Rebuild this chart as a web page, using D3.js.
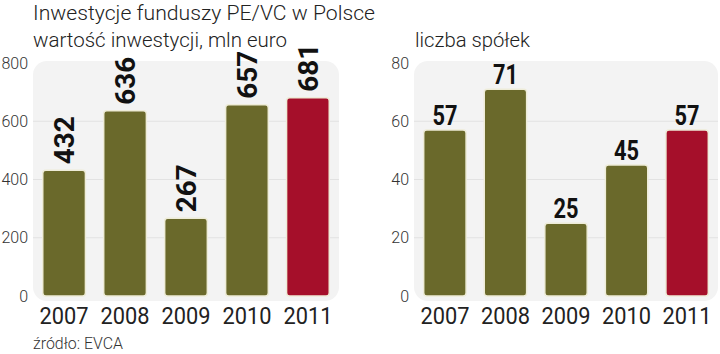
<!DOCTYPE html>
<html>
<head>
<meta charset="utf-8">
<script src="https://cdn.jsdelivr.net/npm/d3@7"></script>
<style>
  body { margin: 0; background: #fff; }
  text { font-family: Roboto, sans-serif; }
</style>
</head>
<body>
<svg width="720" height="354"></svg>
<script>
let years = ['2007', '2008', '2009', '2010', '2011']
let investments = [432, 636, 267, 657, 681]
let companies = [57, 71, 25, 45, 57]
let investTicks = [0, 200, 400, 600, 800]
let companyTicks = [0, 20, 40, 60, 80]

let olive = '#6a692b'
let red = '#a50f2a'

let svg = d3.select('svg')

// titles
svg.append('text')
  .attr('x', 33).attr('y', 20)
  .attr('font-size', 21).attr('font-weight', 300).attr('fill', '#222')
  .attr('textLength', 342).attr('lengthAdjust', 'spacingAndGlyphs')
  .text('Inwestycje funduszy PE/VC w Polsce')

svg.append('text')
  .attr('x', 33).attr('y', 47)
  .attr('font-size', 21).attr('font-weight', 300).attr('fill', '#222')
  .attr('textLength', 254).attr('lengthAdjust', 'spacingAndGlyphs')
  .text('wartość inwestycji, mln euro')

svg.append('text')
  .attr('x', 415).attr('y', 47)
  .attr('font-size', 21).attr('font-weight', 300).attr('fill', '#222')
  .attr('textLength', 115).attr('lengthAdjust', 'spacingAndGlyphs')
  .text('liczba spółek')

svg.append('text')
  .attr('x', 33).attr('y', 349)
  .attr('font-size', 16).attr('font-weight', 300).attr('fill', '#333')
  .attr('textLength', 90).attr('lengthAdjust', 'spacingAndGlyphs')
  .text('źródło: EVCA')

function drawChart(opts) {
  let x = d3.scaleBand()
    .domain(years)
    .range([opts.left, opts.right])
    .paddingInner(0.3)
    .paddingOuter(0.16)

  let y = d3.scaleLinear()
    .domain([0, d3.max(opts.ticks)])
    .range([296, 63])

  let g = svg.append('g')

  g.append('rect')
    .attr('x', opts.left)
    .attr('y', 61)
    .attr('width', opts.right - opts.left)
    .attr('height', 240)
    .attr('rx', 14)
    .attr('fill', '#f3f3f3')

  g.selectAll('.grid')
    .data(opts.ticks.slice(1, -1))
    .join('line')
    .attr('x1', opts.left)
    .attr('x2', opts.right)
    .attr('y1', d => y(d))
    .attr('y2', d => y(d))
    .attr('stroke', '#e2e2e2')

  let yAxis = d3.axisLeft(y)
    .tickValues(opts.ticks)
    .tickSize(0)
    .tickPadding(5)

  g.append('g')
    .attr('transform', 'translate(' + [opts.left, 0] + ')')
    .call(yAxis)
    .call(a => a.select('.domain').remove())
    .selectAll('text')
    .attr('font-size', 16)
    .attr('font-weight', 300)
    .attr('fill', '#333')
    .attr('font-family', 'Roboto, sans-serif')

  g.selectAll('.bar')
    .data(opts.values)
    .join('rect')
    .attr('x', (d, i) => x(years[i]))
    .attr('y', d => y(d))
    .attr('width', x.bandwidth())
    .attr('height', d => y(0) - y(d))
    .attr('rx', 3)
    .attr('fill', (d, i) => i === years.length - 1 ? red : olive)
    .attr('stroke', '#eeecd8')
    .attr('stroke-width', 1.5)

  let labels = g.selectAll('.val')
    .data(opts.values)
    .join('text')
    .attr('font-size', 27)
    .attr('font-weight', 700)
    .attr('fill', '#111')
    .attr('lengthAdjust', 'spacingAndGlyphs')
    .text(d => d)

  if (opts.rotate) {
    labels
      .attr('transform', (d, i) => 'translate(' + [x(years[i]) + x.bandwidth() / 2 + 10, y(d) - 6] + ') rotate(-90)')
      .attr('textLength', 48)
  } else {
    labels
      .attr('x', (d, i) => x(years[i]) + x.bandwidth() / 2)
      .attr('y', d => y(d) - 5)
      .attr('text-anchor', 'middle')
      .attr('textLength', 25)
  }

  g.selectAll('.year')
    .data(years)
    .join('text')
    .attr('x', d => x(d) + x.bandwidth() / 2)
    .attr('y', 324)
    .attr('text-anchor', 'middle')
    .attr('font-size', 24)
    .attr('fill', '#222')
    .attr('textLength', 49)
    .attr('lengthAdjust', 'spacingAndGlyphs')
    .text(d => d)
}

drawChart({ left: 33, right: 339, values: investments, ticks: investTicks, rotate: true })
drawChart({ left: 414, right: 718, values: companies, ticks: companyTicks, rotate: false })
</script>
</body>
</html>
